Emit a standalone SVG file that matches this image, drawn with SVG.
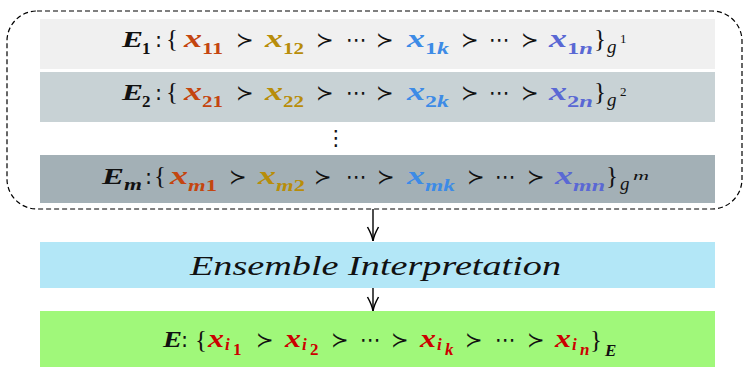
<svg xmlns="http://www.w3.org/2000/svg" width="748" height="373" viewBox="0 0 748 373">
<defs>
<marker id="ah" markerWidth="16" markerHeight="14" refX="15" refY="7" orient="auto" markerUnits="userSpaceOnUse" viewBox="0 0 16 14">
<path d="M1,1.5 Q9,6 15,7 Q9,8 1,12.5" fill="none" stroke="#000" stroke-width="1.5"/>
</marker>
</defs>
<style>
.E{font-family:"Liberation Serif",serif;font-weight:bold;font-style:italic;font-size:24px;fill:#111}
.x{font-family:"Liberation Serif",serif;font-weight:bold;font-style:italic;font-size:25px}
.s{font-family:"Liberation Serif",serif;font-weight:bold;font-size:17px}
.si{font-style:italic}
.p{font-family:"DejaVu Sans",sans-serif;font-size:21px;fill:#111}
.b{font-family:"Liberation Serif",serif;font-size:25px;fill:#111}
.g{font-family:"Liberation Serif",serif;font-style:italic;font-size:19px;fill:#111}
.gs{font-family:"Liberation Serif",serif;font-size:13px;fill:#111}
.c1{fill:#c4450f}.c2{fill:#b88d0a}.c3{fill:#3d8be6}.c4{fill:#5a68d4}.cr{fill:#cc0000}
.conn{stroke:#000;stroke-width:1.4;fill:none}
</style>
<rect x="7" y="11" width="735" height="198" rx="30" ry="30" fill="none" stroke="#000" stroke-width="1.2" stroke-dasharray="5,3"/>
<g id="row1">
<rect x="40" y="19" width="675" height="50" fill="#f0f0f0"/>
<text class="E" x="122" y="47" textLength="21" lengthAdjust="spacingAndGlyphs">E</text>
<text class="s" x="142" y="54" fill="#111">1</text>
<text class="p" x="155" y="47">:</text>
<text class="b" x="166" y="47">{</text>
<text class="x c1" x="184" y="47" textLength="18" lengthAdjust="spacingAndGlyphs">x</text><text class="s c1" x="202" y="54" textLength="21" lengthAdjust="spacingAndGlyphs">11</text>
<text class="p" x="236" y="47">≻</text>
<text class="x c2" x="265" y="47" textLength="18" lengthAdjust="spacingAndGlyphs">x</text><text class="s c2" x="283" y="54" textLength="21" lengthAdjust="spacingAndGlyphs">12</text>
<text class="p" x="316" y="47">≻</text>
<text class="p" x="346" y="47">⋯</text>
<text class="p" x="376" y="47">≻</text>
<text class="x c3" x="407" y="47" textLength="18" lengthAdjust="spacingAndGlyphs">x</text><text class="s c3" x="425" y="54" textLength="24" lengthAdjust="spacingAndGlyphs">1<tspan class="si">k</tspan></text>
<text class="p" x="461" y="47">≻</text>
<text class="p" x="489" y="47">⋯</text>
<text class="p" x="521" y="47">≻</text>
<text class="x c4" x="549" y="47" textLength="18" lengthAdjust="spacingAndGlyphs">x</text><text class="s c4" x="567" y="54" textLength="26" lengthAdjust="spacingAndGlyphs">1<tspan class="si">n</tspan></text>
<text class="b" x="594" y="47">}</text>
<text class="g" x="607" y="53">g</text><text class="gs" x="620" y="43">1</text>
</g>
<g id="row2">
<rect x="40" y="72" width="675" height="50" fill="#c8d2d5"/>
<text class="E" x="122" y="100" textLength="21" lengthAdjust="spacingAndGlyphs">E</text>
<text class="s" x="142" y="107" fill="#111">2</text>
<text class="p" x="155" y="100">:</text>
<text class="b" x="166" y="100">{</text>
<text class="x c1" x="184" y="100" textLength="18" lengthAdjust="spacingAndGlyphs">x</text><text class="s c1" x="202" y="107" textLength="21" lengthAdjust="spacingAndGlyphs">21</text>
<text class="p" x="236" y="100">≻</text>
<text class="x c2" x="265" y="100" textLength="18" lengthAdjust="spacingAndGlyphs">x</text><text class="s c2" x="283" y="107" textLength="21" lengthAdjust="spacingAndGlyphs">22</text>
<text class="p" x="316" y="100">≻</text>
<text class="p" x="346" y="100">⋯</text>
<text class="p" x="376" y="100">≻</text>
<text class="x c3" x="407" y="100" textLength="18" lengthAdjust="spacingAndGlyphs">x</text><text class="s c3" x="425" y="107" textLength="24" lengthAdjust="spacingAndGlyphs">2<tspan class="si">k</tspan></text>
<text class="p" x="461" y="100">≻</text>
<text class="p" x="489" y="100">⋯</text>
<text class="p" x="521" y="100">≻</text>
<text class="x c4" x="549" y="100" textLength="18" lengthAdjust="spacingAndGlyphs">x</text><text class="s c4" x="567" y="107" textLength="26" lengthAdjust="spacingAndGlyphs">2<tspan class="si">n</tspan></text>
<text class="b" x="594" y="100">}</text>
<text class="g" x="607" y="106">g</text><text class="gs" x="620" y="96">2</text>
</g>
<g id="dots">
<text class="p" x="336" y="145" text-anchor="middle" font-size="22">⋮</text>
</g>
<g id="rowm">
<rect x="40" y="155" width="675" height="48" fill="#a3b0b6"/>
<text class="E" x="102" y="184" textLength="22" lengthAdjust="spacingAndGlyphs">E</text>
<text class="s si" x="124" y="190" fill="#111" textLength="18" lengthAdjust="spacingAndGlyphs">m</text>
<text class="p" x="145" y="184">:</text>
<text class="b" x="154" y="184">{</text>
<text class="x c1" x="170" y="184" textLength="18" lengthAdjust="spacingAndGlyphs">x</text><text class="s c1" x="188" y="191" textLength="29" lengthAdjust="spacingAndGlyphs"><tspan class="si">m</tspan>1</text>
<text class="p" x="229" y="184">≻</text>
<text class="x c2" x="258" y="184" textLength="18" lengthAdjust="spacingAndGlyphs">x</text><text class="s c2" x="276" y="191" textLength="29" lengthAdjust="spacingAndGlyphs"><tspan class="si">m</tspan>2</text>
<text class="p" x="314" y="184">≻</text>
<text class="p" x="346" y="184">⋯</text>
<text class="p" x="377" y="184">≻</text>
<text class="x c3" x="407" y="184" textLength="18" lengthAdjust="spacingAndGlyphs">x</text><text class="s si c3" x="425" y="191" textLength="30" lengthAdjust="spacingAndGlyphs">mk</text>
<text class="p" x="467" y="184">≻</text>
<text class="p" x="495" y="184">⋯</text>
<text class="p" x="527" y="184">≻</text>
<text class="x c4" x="555" y="184" textLength="18" lengthAdjust="spacingAndGlyphs">x</text><text class="s si c4" x="573" y="191" textLength="32" lengthAdjust="spacingAndGlyphs">mn</text>
<text class="b" x="606" y="184">}</text>
<text class="g" x="620" y="190">g</text><text class="gs si" x="633" y="180" textLength="16" lengthAdjust="spacingAndGlyphs">m</text>
</g>
<g id="connectors">
<line class="conn" x1="373" y1="209" x2="373" y2="241" marker-end="url(#ah)"/>
<line class="conn" x1="373" y1="288" x2="373" y2="311" marker-end="url(#ah)"/>
</g>
<g id="ensemble">
<rect x="40" y="242" width="675" height="46" fill="#b3e7f7"/>
<text x="190" y="275" font-family="Liberation Serif, serif" font-style="italic" font-size="28" fill="#111" textLength="371" lengthAdjust="spacingAndGlyphs">Ensemble Interpretation</text>
</g>
<g id="result">
<rect x="40" y="311" width="675" height="56" fill="#a0f87a"/>
<text class="E" x="163" y="347" font-size="28" textLength="19" lengthAdjust="spacingAndGlyphs">E</text>
<text class="p" x="181" y="347">:</text>
<text class="b" x="195" y="348" font-size="33">{</text>
<text class="x cr" x="208" y="347" font-size="29" textLength="16" lengthAdjust="spacingAndGlyphs">x</text><text class="s si cr" x="225" y="350">i</text><text class="s cr" x="233" y="355" font-size="13">1</text>
<text class="p" x="256" y="347">≻</text>
<text class="x cr" x="285" y="347" font-size="29" textLength="16" lengthAdjust="spacingAndGlyphs">x</text><text class="s si cr" x="302" y="350">i</text><text class="s cr" x="310" y="355" font-size="13">2</text>
<text class="p" x="331" y="347">≻</text>
<text class="p" x="360" y="347">⋯</text>
<text class="p" x="391" y="347">≻</text>
<text class="x cr" x="420" y="347" font-size="29" textLength="16" lengthAdjust="spacingAndGlyphs">x</text><text class="s si cr" x="437" y="350">i</text><text class="s si cr" x="445" y="355" font-size="13">k</text>
<text class="p" x="465" y="347">≻</text>
<text class="p" x="495" y="347">⋯</text>
<text class="p" x="527" y="347">≻</text>
<text class="x cr" x="555" y="347" font-size="29" textLength="16" lengthAdjust="spacingAndGlyphs">x</text><text class="s si cr" x="572" y="350">i</text><text class="s si cr" x="580" y="355" font-size="13">n</text>
<text class="b" x="590" y="348" font-size="33">}</text>
<text class="s si" x="605" y="356" fill="#111">E</text>
</g>
</svg>
